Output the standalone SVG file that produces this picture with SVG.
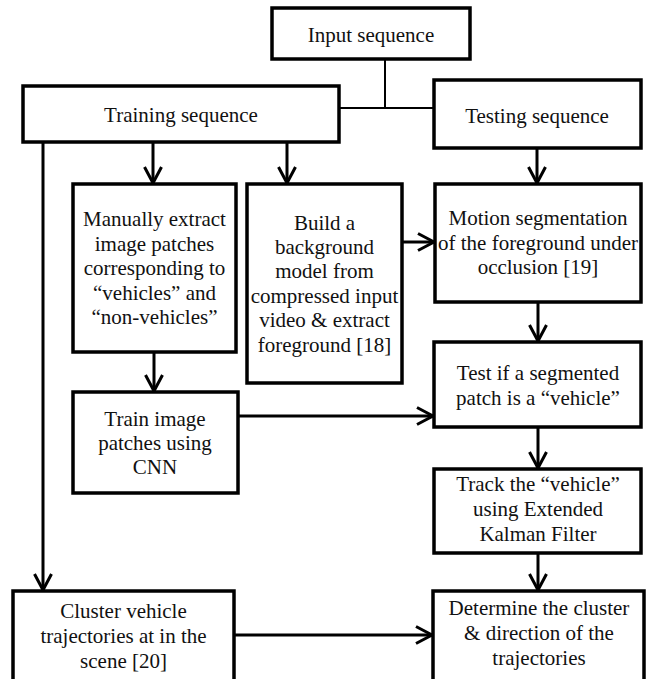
<svg xmlns="http://www.w3.org/2000/svg" width="647" height="679" viewBox="0 0 647 679">
<style>
.box{fill:#fff;stroke:#000;stroke-width:3.5}
text{font-family:'Liberation Serif',Tinos,'Times New Roman',Times,serif;font-size:21px;fill:#111;text-anchor:middle}
.c{fill:none;stroke:#000;stroke-width:3}
.thin{fill:none;stroke:#000;stroke-width:2}
</style>
<defs>
<marker id="arr" markerUnits="userSpaceOnUse" markerWidth="22" markerHeight="22" refX="18" refY="10" orient="auto">
<path d="M2,1.5 L18,10 L2,18.5" fill="none" stroke="#000" stroke-width="3"/>
</marker>
</defs>
<rect width="647" height="679" fill="#fff"/>
<g id="connectors">
<path class="thin" d="M385,59 V108 M339,108 H433"/>
<path class="c" d="M43,142 V590" marker-end="url(#arr)"/>
<path class="c" d="M153,142 V183" marker-end="url(#arr)"/>
<path class="c" d="M287,142 V183" marker-end="url(#arr)"/>
<path class="c" d="M537,148 V183" marker-end="url(#arr)"/>
<path class="c" d="M154,352 V391" marker-end="url(#arr)"/>
<path class="c" d="M402,242 H434" marker-end="url(#arr)"/>
<path class="c" d="M538,302 V341" marker-end="url(#arr)"/>
<path class="c" d="M238,416 H433" marker-end="url(#arr)"/>
<path class="c" d="M538,427 V468" marker-end="url(#arr)"/>
<path class="c" d="M538,553 V590" marker-end="url(#arr)"/>
<path class="c" d="M234,635 H432" marker-end="url(#arr)"/>
</g>
<g id="input">
<rect class="box" x="272" y="8" width="198" height="51"/>
<text x="371" y="42" font-family="Liberation Serif, serif">Input sequence</text>
</g>
<g id="training">
<rect class="box" x="23" y="86" width="316" height="56"/>
<text x="181" y="122">Training sequence</text>
</g>
<g id="testing">
<rect class="box" x="434" y="80" width="207" height="68"/>
<text x="537" y="123">Testing sequence</text>
</g>
<g id="manual">
<rect class="box" x="73" y="184" width="163" height="168"/>
<text x="154.5" y="226">Manually extract</text>
<text x="154.5" y="250.5">image patches</text>
<text x="154.5" y="275">corresponding to</text>
<text x="154.5" y="299.5">“vehicles” and</text>
<text x="154.5" y="324">“non-vehicles”</text>
</g>
<g id="build">
<rect class="box" x="247" y="184" width="155" height="199"/>
<text x="324.5" y="230">Build a</text>
<text x="324.5" y="254">background</text>
<text x="324.5" y="278">model from</text>
<text x="324.5" y="303">compressed input</text>
<text x="324.5" y="327">video &amp; extract</text>
<text x="324.5" y="352">foreground [18]</text>
</g>
<g id="motion">
<rect class="box" x="435" y="184" width="206" height="118"/>
<text x="538" y="225">Motion segmentation</text>
<text x="538" y="250">of the foreground under</text>
<text x="538" y="274">occlusion [19]</text>
</g>
<g id="test">
<rect class="box" x="434" y="342" width="207" height="85"/>
<text x="538" y="380">Test if a segmented</text>
<text x="538" y="405">patch is a “vehicle”</text>
</g>
<g id="train">
<rect class="box" x="73" y="392" width="165" height="101"/>
<text x="155" y="426">Train image</text>
<text x="155" y="450">patches using</text>
<text x="155" y="474">CNN</text>
</g>
<g id="track">
<rect class="box" x="434" y="469" width="207" height="84"/>
<text x="538" y="491">Track the “vehicle”</text>
<text x="538" y="516">using Extended</text>
<text x="538" y="541">Kalman Filter</text>
</g>
<g id="cluster">
<rect class="box" x="13" y="591" width="221" height="100"/>
<text x="123.5" y="618">Cluster vehicle</text>
<text x="123.5" y="643">trajectories at in the</text>
<text x="123.5" y="668">scene [20]</text>
</g>
<g id="determine">
<rect class="box" x="433" y="591" width="211" height="100"/>
<text x="539" y="615">Determine the cluster</text>
<text x="539" y="640">&amp; direction of the</text>
<text x="539" y="665">trajectories</text>
</g>
</svg>
